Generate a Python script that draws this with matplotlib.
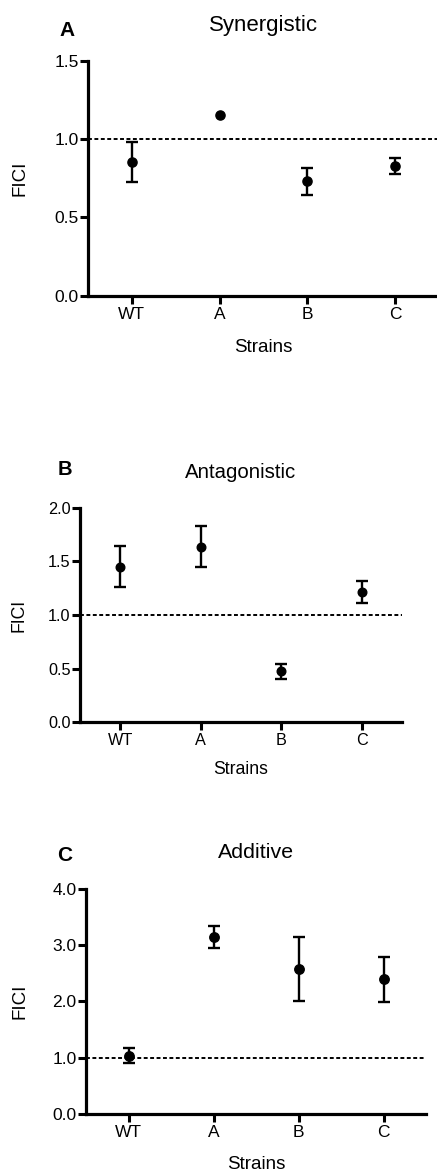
import matplotlib
matplotlib.use('Agg')
import matplotlib.pyplot as plt
import numpy as np

plt.rcParams['font.family'] = ['Liberation Sans', 'DejaVu Sans']

# ---------------- data ----------------
strains = ['WT', 'A', 'B', 'C']

syn_mean = [0.855, 1.155, 0.73, 0.83]
syn_err = [0.13, np.nan, 0.085, 0.052]

ant_mean = [1.45, 1.635, 0.475, 1.215]
ant_err = [0.19, 0.19, 0.07, 0.10]

add_mean = [1.04, 3.14, 2.575, 2.395]
add_err = [0.13, 0.19, 0.565, 0.40]

syn_yticks = [0.0, 0.5, 1.0, 1.5]
ant_yticks = [0.0, 0.5, 1.0, 1.5, 2.0]
add_yticks = [0.0, 1.0, 2.0, 3.0, 4.0]

threshold = 1.0

titles = ['Synergistic', 'Antagonistic', 'Additive']
letters = ['A', 'B', 'C']
xlabel = 'Strains'
ylabel = 'FICI'

# ---------------- layout ----------------
W, H = 437, 1171
fig = plt.figure(figsize=(W / 100, H / 100), dpi=100)


def fx(px):
    return px / W


def fy(py):
    return 1 - py / H


panels = [
    dict(mean=syn_mean, err=syn_err, yticks=syn_yticks,
         box=(88, 439, 61, 295.5), tfs=12.5, lfs=13.5, titfs=16, letfs=15, ms=6.6,
         title_xy=(263.5, 30.5), letter_xy=(59.3, 36), xl_xy=(263.5, 352.3), yl_xy=(20, 178)),
    dict(mean=ant_mean, err=ant_err, yticks=ant_yticks,
         box=(80, 402, 507.7, 722.3), tfs=11.7, lfs=12.7, titfs=14.7, letfs=14.5, ms=6.2,
         title_xy=(241, 478.5), letter_xy=(57.7, 475), xl_xy=(241, 774), yl_xy=(19, 615)),
    dict(mean=add_mean, err=add_err, yticks=add_yticks,
         box=(86, 426.3, 888.7, 1114.2), tfs=12.5, lfs=13.5, titfs=15.4, letfs=15, ms=6.8,
         title_xy=(256, 858.3), letter_xy=(56.7, 861), xl_xy=(256, 1169), yl_xy=(20, 1001)),
]

for i, p in enumerate(panels):
    l, r, t, b = p['box']
    ax = fig.add_axes([fx(l), fy(b), fx(r) - fx(l), fy(t) - fy(b)])
    x = np.arange(len(strains))
    mean = np.array(p['mean'], dtype=float)
    err = np.array(p['err'], dtype=float)
    ok = ~np.isnan(err)

    ax.axhline(threshold, color='black', lw=1.4, ls=(0, (2.0, 1.3)), zorder=1)
    ax.errorbar(x[ok], mean[ok], yerr=err[ok], fmt='none', ecolor='black',
                elinewidth=1.7, capsize=4.0, capthick=1.7, zorder=2)
    ax.plot(x, mean, 'o', color='black', ms=p['ms'], zorder=3)

    ax.set_xlim(-0.5, 3.5)
    ax.set_ylim(p['yticks'][0], p['yticks'][-1])
    ax.set_xticks(x)
    ax.set_xticklabels(strains)
    ax.set_yticks(p['yticks'])
    ax.set_yticklabels([f'{v:.1f}' for v in p['yticks']])

    for s in ['top', 'right']:
        ax.spines[s].set_visible(False)
    for s in ['left', 'bottom']:
        ax.spines[s].set_linewidth(2.3)
        ax.spines[s].set_capstyle('projecting')
    ax.tick_params(axis='both', direction='out', length=5.5, width=2.2,
                   labelsize=p['tfs'], colors='black')
    ax.tick_params(axis='y', pad=1.2)
    ax.tick_params(axis='x', pad=2.5)
    ax.patch.set_visible(False)

    tx, ty = p['title_xy']
    fig.text(fx(tx), fy(ty), titles[i], ha='center', va='baseline', fontsize=p['titfs'])
    lx, ly = p['letter_xy']
    fig.text(fx(lx), fy(ly), letters[i], ha='left', va='baseline', fontsize=p['letfs'],
             fontweight='bold')
    xx, xy = p['xl_xy']
    fig.text(fx(xx), fy(xy), xlabel, ha='center', va='baseline', fontsize=p['lfs'])
    yx, yy = p['yl_xy']
    fig.text(fx(yx), fy(yy), ylabel, ha='center', va='center', rotation=90, fontsize=p['lfs'])

fig.savefig('out.png', dpi=100)
